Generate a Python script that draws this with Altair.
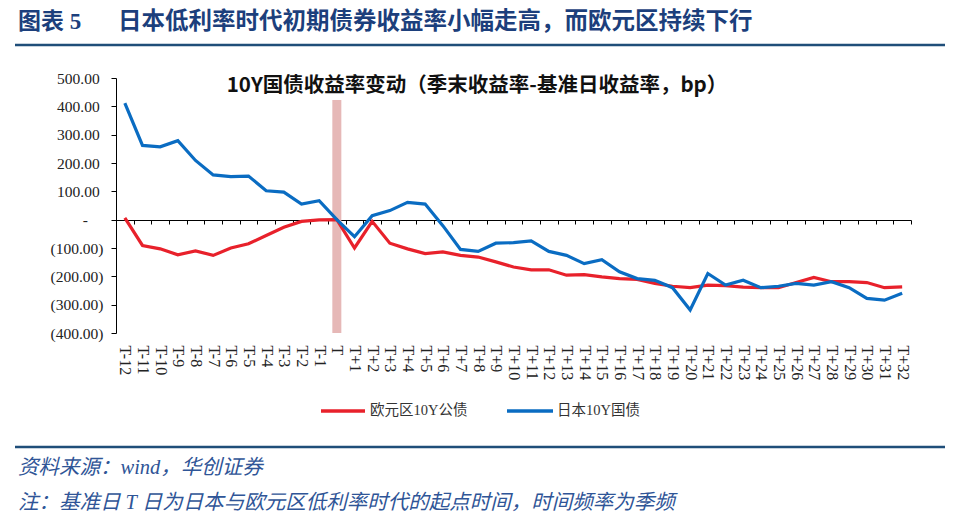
import altair as alt
import pandas as pd

cats = ["T-12", "T-11", "T-10", "T-9", "T-8", "T-7", "T-6", "T-5", "T-4", "T-3", "T-2", "T-1", "T",
        "T+1", "T+2", "T+3", "T+4", "T+5", "T+6", "T+7", "T+8", "T+9", "T+10",
        "T+11", "T+12", "T+13", "T+14", "T+15", "T+16", "T+17", "T+18", "T+19", "T+20",
        "T+21", "T+22", "T+23", "T+24", "T+25", "T+26", "T+27", "T+28", "T+29", "T+30",
        "T+31", "T+32"]

euro = [6, -91, -103, -124, -110, -126, -100, -85, -56, -27, -6, -1, 0,
        -100, -6, -83, -103, -120, -114, -126, -132, -149, -167,
        -177, -177, -196, -194, -202, -208, -211, -225, -235, -240,
        -231, -233, -238, -240, -240, -222, -204, -219, -219, -222,
        -240, -237]

japan = [411, 262, 257, 279, 209, 158, 152, 154, 102, 97, 55, 67, 0,
         -60, 14, 32, 61, 55, -21, -105, -112, -83, -81,
         -75, -112, -126, -155, -141, -184, -208, -214, -240, -319,
         -190, -231, -214, -240, -235, -225, -231, -219, -240, -278,
         -284, -260]

series_names = ["欧元区10Y公债", "日本10Y国债"]
series_colors = ["#e8212b", "#0a6cc2"]
y_ticks = [-400, -300, -200, -100, 0, 100, 200, 300, 400, 500]

header_tag = "图表  5"
header_text = "日本低利率时代初期债券收益率小幅走高，而欧元区持续下行"
chart_title = "10Y国债收益率变动（季末收益率-基准日收益率，bp）"
source_text = "资料来源：wind，华创证券"
note_text = "注：基准日 T 日为日本与欧元区低利率时代的起点时间，时间频率为季频"
base_cat = "T"

W, H = 795, 255
navy = "#1c3f7c"
serif_cjk = "Liberation Serif, Noto Sans CJK SC"

df = pd.DataFrame({
    "cat": cats * 2,
    "idx": list(range(len(cats))) * 2,
    "value": euro + japan,
    "series": [series_names[0]] * len(cats) + [series_names[1]] * len(cats),
})

x_scale = alt.Scale(type="band", domain=cats, paddingInner=0, paddingOuter=0)
y_scale = alt.Scale(domain=[-400, 500], nice=False, zero=False)

label_expr = ("datum.value == 0 ? '-\u00a0\u00a0\u00a0\u00a0\u200b' : (datum.value < 0 ? "
              "'(' + format(-datum.value, '.2f') + ')' : format(datum.value, '.2f') + '\u00a0\u200b')")

band = alt.Chart(pd.DataFrame({"cat": [base_cat]})).mark_rule(
    strokeWidth=9, color="#e6b8b7"
).encode(
    x=alt.X("cat:N", scale=x_scale),
    y=alt.value(H),
    y2=alt.value(22),
)

lines = alt.Chart(df).mark_line(strokeWidth=3.2).encode(
    x=alt.X("cat:N", scale=x_scale, sort=cats, axis=alt.Axis(
        title=None, orient="bottom", offset=-113, domainColor="black", domainWidth=1,
        tickColor="black", tickSize=4, tickBand="extent", labelAngle=90,
        labelPadding=121, labelFont="Liberation Serif", labelFontSize=16,
        labelColor="#222222", labelAlign="left", labelBaseline="middle", grid=False,
        labelOverlap=False)),
    y=alt.Y("value:Q", scale=y_scale, axis=alt.Axis(
        title=None, values=y_ticks, labelExpr=label_expr, domainColor="black",
        tickColor="black", tickSize=5, labelPadding=8, labelFont="Liberation Serif",
        labelFontSize=15.5, labelColor="#222222", grid=False, labelOverlap=False)),
    color=alt.Color("series:N", scale=alt.Scale(domain=series_names, range=series_colors), legend=None),
    order=alt.Order("idx:Q"),
)

one = pd.DataFrame({"a": [0]})


def txt(text, x, y, **kw):
    return alt.Chart(one).mark_text(**kw).encode(
        x=alt.value(x), y=alt.value(y), text=alt.value(text))


def hrule(x1, x2, y, color, width):
    return alt.Chart(one).mark_rule(color=color, strokeWidth=width).encode(
        x=alt.value(x1), x2=alt.value(x2), y=alt.value(y))


layers = [
    band,
    lines,
    txt(header_tag, -98, -56, align="left", baseline="middle", font=serif_cjk,
        fontSize=23, fontWeight="bold", color=navy),
    txt(header_text, 2, -56, align="left", baseline="middle", font=serif_cjk,
        fontSize=23.5, fontWeight="bold", color=navy),
    hrule(-101, 829, -33, "#1f4e79", 2.5),
    txt(chart_title, 361, 8, align="center", baseline="middle", font="Noto Sans CJK SC",
        fontSize=20.5, fontWeight="bold", color="#111111"),
    hrule(205, 249, 333, series_colors[0], 3.5),
    txt(series_names[0], 254, 333, align="left", baseline="middle", font=serif_cjk,
        fontSize=14.5, color="#333333"),
    hrule(391, 437, 333, series_colors[1], 3.5),
    txt(series_names[1], 441, 333, align="left", baseline="middle", font=serif_cjk,
        fontSize=14.5, color="#333333"),
    hrule(-101, 829, 369, "#1f4e79", 2.5),
    txt(source_text, -98, 390, align="left", baseline="middle", font=serif_cjk,
        fontSize=20.5, fontStyle="italic", color="#2f5597"),
    txt(note_text, -98, 425, align="left", baseline="middle", font=serif_cjk,
        fontSize=20.5, fontStyle="italic", color="#2f5597"),
]

chart = alt.layer(*layers).properties(
    width=W, height=H,
    padding={"left": 108, "top": 70, "right": 40, "bottom": 180},
    autosize=alt.AutoSizeParams(type="none"),
    background="white",
).configure_view(stroke=None)

chart.save("out.html", embed_options={"renderer": "svg", "actions": False})
